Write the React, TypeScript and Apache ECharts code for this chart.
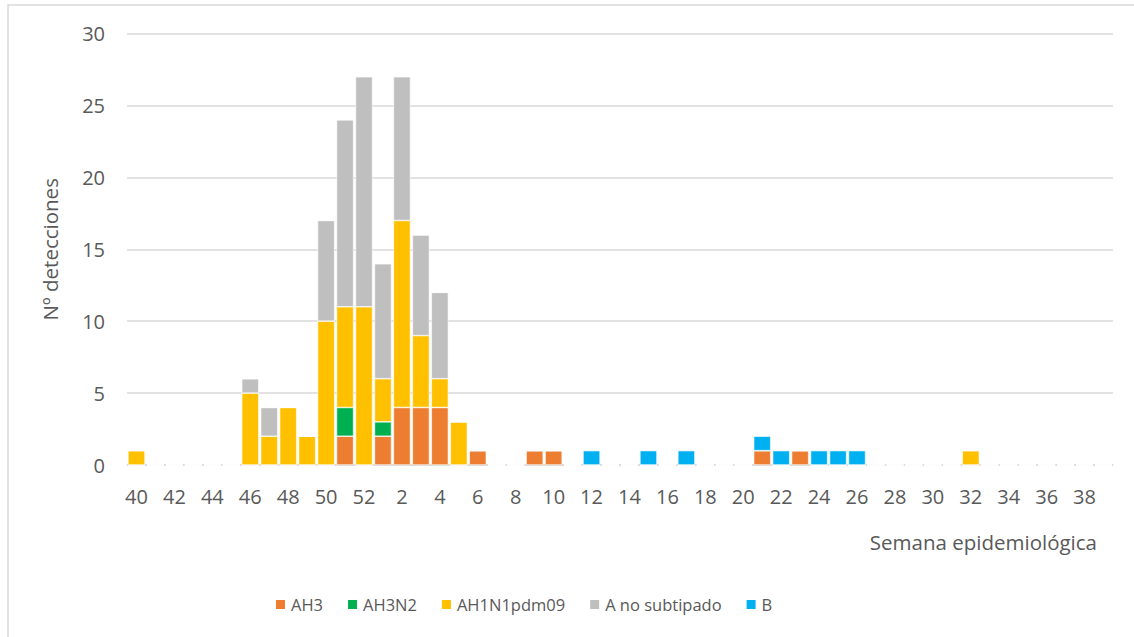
import React, { useEffect, useRef } from "react";
import * as echarts from "echarts";

const weeks: string[] = [
  "40","41","42","43","44","45","46","47","48","49","50","51","52",
  "1","2","3","4","5","6","7","8","9","10","11","12","13","14","15","16","17","18","19","20",
  "21","22","23","24","25","26","27","28","29","30","31","32","33","34","35","36","37","38","39",
];

// values per week (same order as weeks)
const ah3: number[] = [
  0,0,0,0,0,0,0,0,0,0,0,2,0,
  2,4,4,4,0,1,0,0,1,1,0,0,0,0,0,0,0,0,0,0,
  1,0,1,0,0,0,0,0,0,0,0,0,0,0,0,0,0,0,0,
];
const ah3n2: number[] = [
  0,0,0,0,0,0,0,0,0,0,0,2,0,
  1,0,0,0,0,0,0,0,0,0,0,0,0,0,0,0,0,0,0,0,
  0,0,0,0,0,0,0,0,0,0,0,0,0,0,0,0,0,0,0,
];
const ah1n1: number[] = [
  1,0,0,0,0,0,5,2,4,2,10,7,11,
  3,13,5,2,3,0,0,0,0,0,0,0,0,0,0,0,0,0,0,0,
  0,0,0,0,0,0,0,0,0,0,0,1,0,0,0,0,0,0,0,
];
const aNoSub: number[] = [
  0,0,0,0,0,0,1,2,0,0,7,13,16,
  8,10,7,6,0,0,0,0,0,0,0,0,0,0,0,0,0,0,0,0,
  0,0,0,0,0,0,0,0,0,0,0,0,0,0,0,0,0,0,0,
];
const bVals: number[] = [
  0,0,0,0,0,0,0,0,0,0,0,0,0,
  0,0,0,0,0,0,0,0,0,0,0,1,0,0,1,0,1,0,0,0,
  1,1,0,1,1,1,0,0,0,0,0,0,0,0,0,0,0,0,0,
];

const seriesNames = ["AH3", "AH3N2", "AH1N1pdm09", "A no subtipado", "B"];
const seriesColors = ["#ED7D31", "#00B050", "#FFC000", "#BFBFBF", "#00B0F0"];
const seriesData = [ah3, ah3n2, ah1n1, aNoSub, bVals];

const FONT = "'Open Sans', 'Noto Sans', sans-serif";
const TXT = "#595959";

export default function App() {
  const ref = useRef<HTMLDivElement>(null);
  useEffect(() => {
    if (!ref.current) return;
    const chart = echarts.init(ref.current, null, { renderer: "svg" });
    chart.setOption({
      animation: false,
      backgroundColor: "#ffffff",
      textStyle: { fontFamily: FONT, color: TXT },
      grid: { left: 127, right: 21, top: 33.5, bottom: 172, containLabel: false },
      legend: {
        data: seriesNames,
        left: 269,
        top: 591,
        itemWidth: 11,
        itemHeight: 11,
        itemGap: 23,
        icon: "rect",
        textStyle: { fontFamily: FONT, fontSize: 16.5, color: TXT },
      },
      xAxis: {
        type: "category",
        data: weeks,
        axisLine: { lineStyle: { color: "#D9D9D9", width: 1.5 } },
        axisTick: { show: false },
        axisLabel: {
          interval: 1,
          fontFamily: FONT,
          fontSize: 20,
          color: TXT,
          margin: 21,
        },
      },
      yAxis: {
        type: "value",
        min: 0,
        max: 30,
        interval: 5,
        name: "Nº detecciones",
        nameLocation: "middle",
        nameGap: 67,
        nameTextStyle: { fontFamily: FONT, fontSize: 20.5, color: TXT },
        axisLine: { show: false },
        axisTick: { show: false },
        splitLine: { lineStyle: { color: "#D9D9D9", width: 1.5 } },
        axisLabel: { fontFamily: FONT, fontSize: 20, color: TXT, margin: 22 },
      },
      series: seriesNames.map((name, i) => ({
        name,
        type: "bar",
        stack: "total",
        data: seriesData[i],
        barCategoryGap: "10%",
        itemStyle: { color: seriesColors[i], borderColor: "#ffffff", borderWidth: 0.6 },
      })),
      graphic: [
        {
          type: "polyline",
          shape: { points: [[8, 637], [8, 5], [1134, 5]] },
          style: { stroke: "#D9D9D9", lineWidth: 1.5, fill: "none" },
          silent: true,
        },
        {
          type: "text",
          right: 37,
          top: 531,
          style: {
            text: "Semana epidemiológica",
            fontFamily: FONT,
            fontSize: 20.5,
            fill: TXT,
          },
        },
      ],
    });
    return () => chart.dispose();
  }, []);
  return (
    <div
      ref={ref}
      style={{ position: "fixed", left: 0, top: 0, width: 1134, height: 637 }}
    />
  );
}
